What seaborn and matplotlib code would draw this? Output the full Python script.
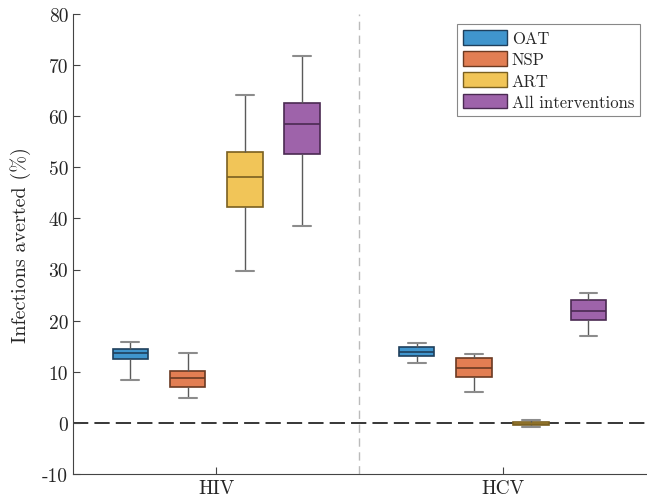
import numpy as np
import pandas as pd
import seaborn as sns
import matplotlib.pyplot as plt
from matplotlib.patches import Patch

# box statistics: [whisker low, q1, median, q3, whisker high]
diseases = ["HIV", "HCV"]
interventions = ["OAT", "NSP", "ART", "All interventions"]

hiv_oat = [8.3, 12.5, 13.6, 14.5, 15.9]
hiv_nsp = [4.9, 7.0, 8.7, 10.2, 13.6]
hiv_art = [29.7, 42.3, 48.1, 53.0, 64.2]
hiv_all = [38.6, 52.7, 58.4, 62.6, 71.8]

hcv_oat = [11.8, 13.1, 13.9, 14.8, 15.7]
hcv_nsp = [6.1, 8.9, 10.8, 12.6, 13.5]
hcv_art = [-0.8, -0.35, -0.2, 0.1, 0.55]
hcv_all = [17.0, 20.1, 21.8, 24.0, 25.4]

face_colors = ["#4095CD", "#E27E53", "#F1C558", "#9E63AA"]
edge_colors = ["#1F3F5C", "#6B3A22", "#7A6020", "#4A2A52"]

boxes = {
    ("HIV", "OAT"): hiv_oat, ("HIV", "NSP"): hiv_nsp,
    ("HIV", "ART"): hiv_art, ("HIV", "All interventions"): hiv_all,
    ("HCV", "OAT"): hcv_oat, ("HCV", "NSP"): hcv_nsp,
    ("HCV", "ART"): hcv_art, ("HCV", "All interventions"): hcv_all,
}
rows = []
for (d, i), vals in boxes.items():
    for v in vals:
        rows.append({"disease": d, "intervention": i, "value": v})
df = pd.DataFrame(rows)

sns.set_style("white")
plt.rcParams["font.family"] = ["cmr10", "DejaVu Serif"]
plt.rcParams["axes.unicode_minus"] = False
plt.rcParams["mathtext.fontset"] = "cm"

fig = plt.figure(figsize=(6.47, 5.02), dpi=100)
ax = fig.add_axes([0.113, 0.054, 0.885, 0.916])

sns.boxplot(data=df, x="disease", y="value", hue="intervention",
            order=diseases, hue_order=interventions,
            palette=face_colors, whis=(0, 100), width=0.8, gap=0.38,
            saturation=1, linewidth=1.2, linecolor="#555555",
            showfliers=False, legend=False, ax=ax)

# recolour box edges/medians per intervention, greyer caps
for k, cont in enumerate(ax.containers):
    for b in cont.boxes:
        b.set_edgecolor(edge_colors[k])
        b.set_linewidth(1.2)
    for m in cont.medians:
        m.set_color(edge_colors[k])
        m.set_linewidth(1.2)
    for w in cont.whiskers:
        w.set_color("#5a5a5a")
        w.set_linewidth(1.0)
    for c in cont.caps:
        c.set_color("#8c8c8c")
        c.set_linewidth(1.5)

ax.axhline(0, color="black", lw=1.1, dashes=(10, 4), zorder=0)
ax.axvline(0.5, color="#bbbbbb", lw=1.0, dashes=(6, 4), zorder=0)

ax.set_xlim(-0.5, 1.5)
ax.set_ylim(-10, 80)
ax.set_yticks(np.arange(-10, 81, 10))
ax.set_xlabel("")
ax.set_ylabel("Infections averted (%)", fontsize=14.5, labelpad=8)
ax.tick_params(axis="both", direction="in", length=5, width=0.8,
               color="#444444", labelsize=14, left=True, bottom=True)
ax.tick_params(axis="x", pad=4)
for s in ["top", "right"]:
    ax.spines[s].set_visible(False)
for s in ["left", "bottom"]:
    ax.spines[s].set_color("#444444")
    ax.spines[s].set_linewidth(0.8)

handles = [Patch(facecolor=face_colors[k], edgecolor=edge_colors[k], lw=1.0)
           for k in range(len(interventions))]
leg = ax.legend(handles, interventions, loc="upper right",
                bbox_to_anchor=(0.99, 0.978), borderaxespad=0,
                fancybox=False, framealpha=1, edgecolor="#888888",
                fontsize=12, handlelength=2.6, handleheight=1.0,
                handletextpad=0.3, labelspacing=0.3, borderpad=0.35)
leg.get_frame().set_linewidth(0.8)

fig.savefig("out.png", dpi=100)
